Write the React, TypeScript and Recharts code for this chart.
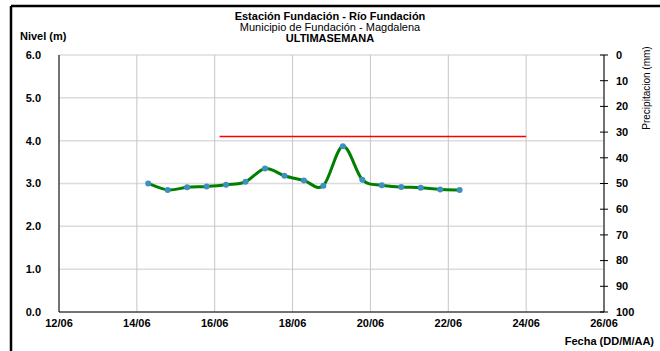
import * as React from "react";
import { CartesianGrid, Line, LineChart, XAxis, YAxis } from "recharts";

// Nivel del río, una lectura cada 12 h (DD/MM HH:MM)
const fechas = [
  "14/06 07:00", "14/06 19:00", "15/06 07:00", "15/06 19:00", "16/06 07:00",
  "16/06 19:00", "17/06 07:00", "17/06 19:00", "18/06 07:00", "18/06 19:00",
  "19/06 07:00", "19/06 19:00", "20/06 07:00", "20/06 19:00", "21/06 07:00",
  "21/06 19:00", "22/06 07:00",
];
const niveles = [
  3.0, 2.85, 2.91, 2.93, 2.97, 3.04, 3.35, 3.18, 3.07, 2.95, 3.87, 3.09, 2.96,
  2.92, 2.9, 2.86, 2.85,
];

// Cota de alerta (línea roja)
const alertaFechas = ["16/06 03:00", "24/06 00:00"];
const alertaNivel = 4.1;

const ejeFechas = ["12/06", "14/06", "16/06", "18/06", "20/06", "22/06", "24/06", "26/06"];
const ejeNivel = [0, 1, 2, 3, 4, 5, 6];
const ejePrecip = [0, 10, 20, 30, 40, 50, 60, 70, 80, 90, 100];

const DIA_0 = 12;
// días desde 12/06 00:00
const aDias = (s: string) => {
  const [d, h] = s.split(" ");
  const dia = Number(d.split("/")[0]);
  const [hh, mm] = h.split(":").map(Number);
  return dia - DIA_0 + hh / 24 + mm / 1440;
};
const diasEtiqueta = (s: string) => Number(s.split("/")[0]) - DIA_0;

const serieNivel = fechas.map((f, i) => ({ t: aDias(f), nivel: niveles[i] }));
const serieAlerta = alertaFechas.map((f) => ({ t: aDias(f), nivel: alertaNivel }));
const ticksX = ejeFechas.map(diasEtiqueta);

// suavizado tipo Excel (Catmull-Rom uniforme)
function curvaSuave(context: any) {
  let pts: number[][] = [];
  return {
    areaStart() {},
    areaEnd() {},
    lineStart() {
      pts = [];
    },
    point(x: number, y: number) {
      pts.push([+x, +y]);
    },
    lineEnd() {
      if (!pts.length) return;
      context.moveTo(pts[0][0], pts[0][1]);
      for (let i = 0; i < pts.length - 1; i++) {
        const p0 = pts[i - 1] || pts[i];
        const p1 = pts[i];
        const p2 = pts[i + 1];
        const p3 = pts[i + 2] || p2;
        context.bezierCurveTo(
          p1[0] + (p2[0] - p0[0]) / 6,
          p1[1] + (p2[1] - p0[1]) / 6,
          p2[0] - (p3[0] - p1[0]) / 6,
          p2[1] - (p3[1] - p1[1]) / 6,
          p2[0],
          p2[1]
        );
      }
    },
  };
}

const FONT = "'Liberation Sans', Arial, sans-serif";
const tickStyle = { fill: "#000", fontSize: 11, fontWeight: 700, fontFamily: FONT };

function TickDerecho(props: any) {
  const { x, y, payload } = props;
  return (
    <g>
      <line x1={x - 12} x2={x - 4} y1={y} y2={y} stroke="#000" strokeWidth={1} />
      <text x={x + 4} y={y} dy="0.35em" textAnchor="start" {...tickStyle}>
        {payload.value}
      </text>
    </g>
  );
}

export default function App() {
  return (
    <div style={{ position: "absolute", left: 0, top: 0, width: 660, height: 351, background: "#fff", overflow: "hidden" }}>
      <LineChart width={660} height={351} margin={{ top: 55, right: 0, bottom: 0, left: 0 }}>
        <CartesianGrid yAxisId="left" vertical={false} stroke="#dcdcdc" strokeWidth={1.5} />
        <CartesianGrid yAxisId="left" horizontal={false} stroke="#c6c6c6" strokeWidth={1} />
        <XAxis
          type="number"
          dataKey="t"
          domain={[0, 14]}
          ticks={ticksX}
          allowDataOverflow
          height={39}
          tickFormatter={(v) => ejeFechas[ticksX.indexOf(v)]}
          axisLine={{ stroke: "#000" }}
          tickLine={false}
          tickSize={4}
          tickMargin={3}
          tick={tickStyle}
        />
        <YAxis
          yAxisId="left"
          domain={[0, 6]}
          ticks={ejeNivel}
          width={59}
          tickFormatter={(v) => Number(v).toFixed(1)}
          axisLine={{ stroke: "#000" }}
          tickLine={false}
          tickSize={4}
          tickMargin={14}
          tick={tickStyle}
        />
        <YAxis
          yAxisId="right"
          orientation="right"
          domain={[0, 100]}
          ticks={ejePrecip}
          reversed
          allowDataOverflow
          width={56}
          axisLine={{ stroke: "#000" }}
          tickLine={false}
          tickSize={4}
          tickMargin={4}
          tick={<TickDerecho />}
        />
        <Line
          yAxisId="left"
          data={serieAlerta}
          dataKey="nivel"
          type="linear"
          stroke="#ff0000"
          strokeWidth={1.5}
          dot={false}
          isAnimationActive={false}
        />
        <Line
          yAxisId="left"
          data={serieNivel}
          dataKey="nivel"
          type={curvaSuave as any}
          stroke="#008000"
          strokeWidth={3}
          dot={{ r: 3, fill: "#3f8fc0", stroke: "#3f8fc0", strokeWidth: 0 }}
          isAnimationActive={false}
        />
      </LineChart>
      <svg width={660} height={351} style={{ position: "absolute", left: 0, top: 0, pointerEvents: "none" }}>
        <line x1={11} x2={11} y1={6} y2={351} stroke="#000" strokeWidth={2.5} />
        <line x1={11} x2={660} y1={6} y2={6} stroke="#000" strokeWidth={2.5} />
        <g fontFamily={FONT} fontSize={11} fill="#000">
          <text x={330} y={20} textAnchor="middle" fontWeight={700}>Estación Fundación - Río Fundación</text>
          <text x={330} y={31} textAnchor="middle">Municipio de Fundación - Magdalena</text>
          <text x={330} y={42} textAnchor="middle" fontWeight={700}>ULTIMASEMANA</text>
          <text x={20} y={40} fontWeight={700}>Nivel (m)</text>
          <text x={654} y={345} textAnchor="end" fontWeight={700}>Fecha (DD/M/AA)</text>
          <text x={650} y={88} textAnchor="middle" fontSize={10} transform="rotate(-90 650 88)">Precipitacion (mm)</text>
        </g>
      </svg>
    </div>
  );
}
